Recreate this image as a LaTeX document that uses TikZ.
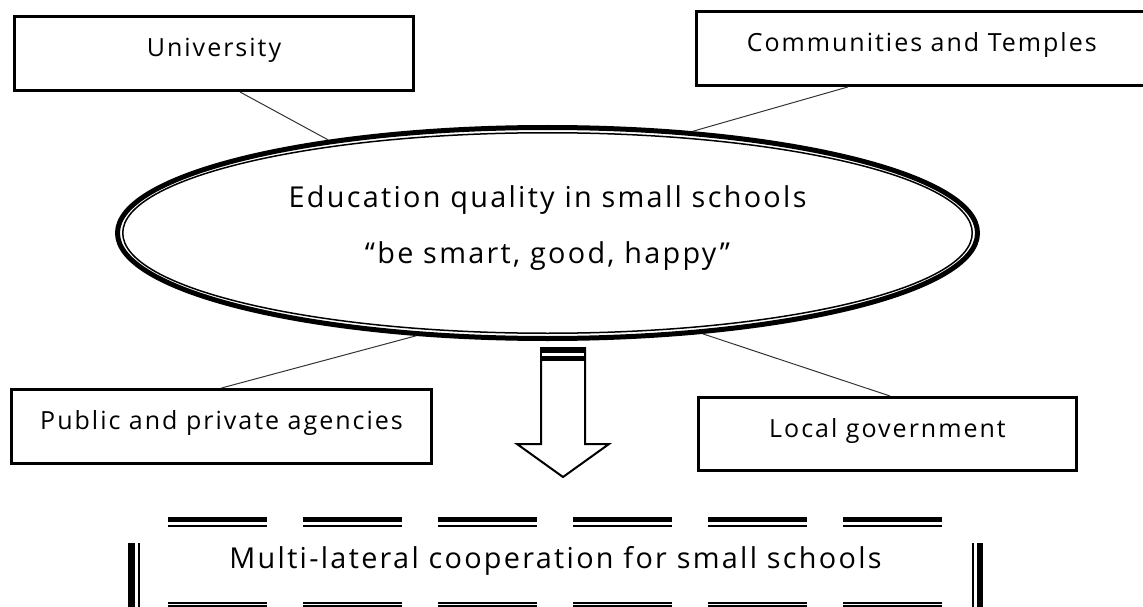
\documentclass[tikz,border=0pt]{standalone}
\usepackage{fontspec}
\setmainfont{Open Sans}[LetterSpace=8]
\usetikzlibrary{positioning,calc,shapes.geometric}

\begin{document}
\begin{tikzpicture}[x=1pt,y=-1pt]
		\tikzset{boxstyle/.style={draw,rectangle,line width=3pt,inner sep=0pt}}
		\tikzset{labelstyle/.style={anchor=base,inner sep=0pt,font=\fontsize{25}{30}\selectfont}}
		\tikzset{bigtext/.style={anchor=base,inner sep=0pt,font=\fontsize{28.8}{34}\selectfont}}
		\tikzset{linkedge/.style={-,line width=1pt,black!80}}
		\tikzset{dashthick/.style={line width=5.5pt,dash pattern=on 99pt off 36pt}}
		\tikzset{dashthin/.style={line width=2pt,dash pattern=on 99pt off 36pt}}
		
		\useasboundingbox (0,0) rectangle (1143,607);
		
		\newcommand\drawBox[6] % {x} {y} {width} {height} {label} {name}
		{
			\node[boxstyle, minimum width=#3, minimum height=#4] at (#1,#2) (#6) {};
			\node[labelstyle] at ($(#6.center)+(0,3)$) (#6text) {#5};
		}
		
		\drawBox{214}{53.5}{399}{74}{University}{univ}
		\drawBox{921.75}{48.5}{450.5}{74}{Communities and Temples}{comm}
		\drawBox{221.5}{426.5}{420}{74}{Public and private agencies}{pub}
		\drawBox{887.5}{434}{378}{73}{Local government}{local}
		
		% centre ellipse
		\node[draw, ellipse, line width=5pt, minimum width=860, minimum height=211, inner sep=0pt] at (547.5,233) (edu) {};
		\draw[line width=1.5pt] (edu.center) ellipse [x radius=424.75, y radius=100.25];
		\node[bigtext] at (547.5,207) (edutop) {Education quality in small schools};
		\node[bigtext] at (547.5,263) (edubot) {“be smart, good, happy”};
		
		\draw[linkedge]
		($(univ.south)+(26,0)$) to (edu.157)
		($(comm.south)+(-74,0)$) to (edu.35)
		(pub.north) to (edu.218.6)
		($(local.north)+(2.5,0)$) to (edu.327.3);
		
		% block arrow
		\draw[line width=2pt, fill=white] (541,348) -- (585,348) -- (585,444) -- (609,444) -- (563,477) -- (517,444) -- (541,444) -- cycle;
		\fill (540,348) rectangle (586,361);
		\draw[white, line width=2.5pt] (542,354.5) -- (584,354.5);
		
		% bottom box
		\node[bigtext] at (555.5,568) (coop) {Multi-lateral cooperation for small schools};
		
		\draw[dashthick] (168,519.5) -- (942,519.5);
		\draw[dashthin] (168,525.5) -- (942,525.5);
		\draw[dashthin] (168,602.5) -- (942,602.5);
		\draw[dashthick] (168,608) -- (942,608);
		
		\draw[dashthick, line width=6.5pt] (979.75,543) -- (979.75,660);
		\draw[dashthin] (972.5,543) -- (972.5,660);
		\draw[dashthick, line width=6.5pt] (131.25,543) -- (131.25,660);
		\draw[dashthin] (138.5,543) -- (138.5,660);
		
\end{tikzpicture}
\end{document}
